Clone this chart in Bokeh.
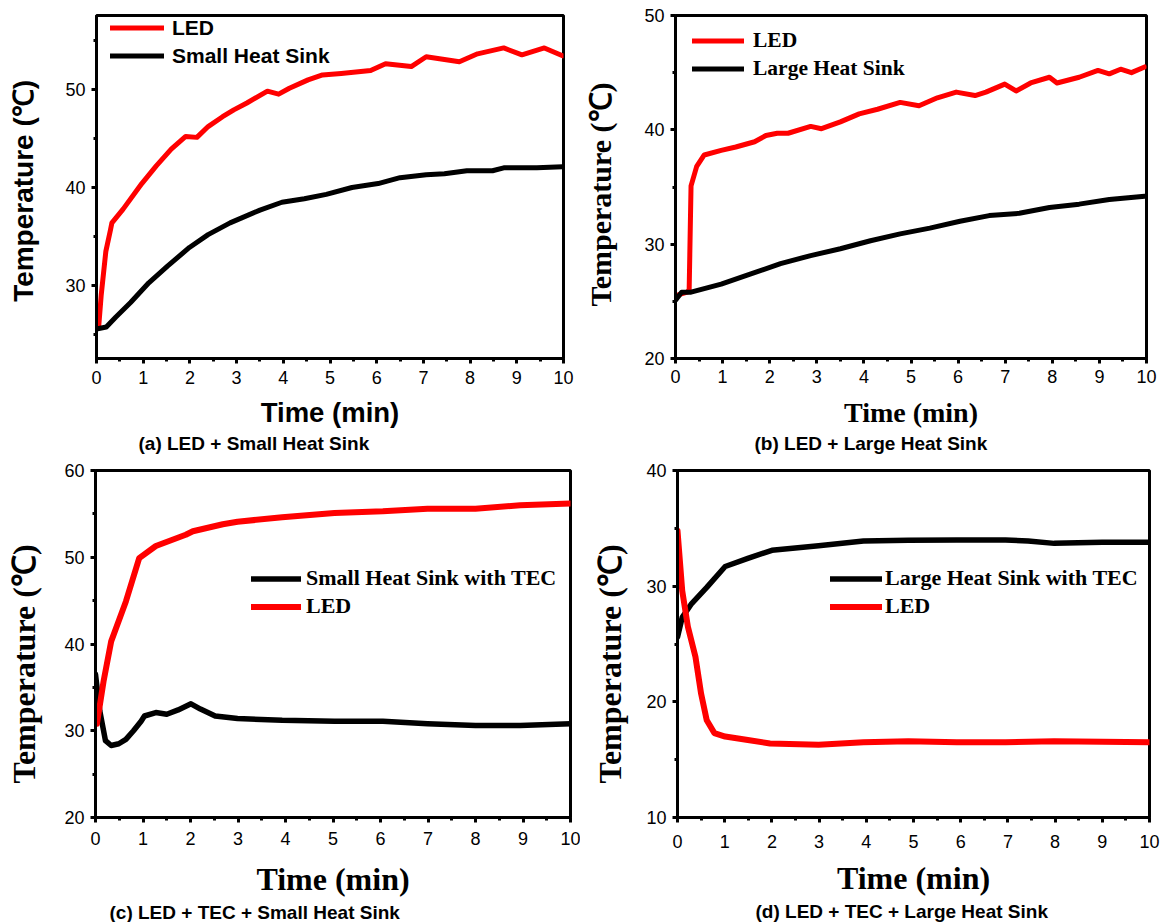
from bokeh.plotting import figure
from bokeh.layouts import column, row
from bokeh.models import Range1d, SingleIntervalTicker
from bokeh.embed import file_html
from bokeh.resources import INLINE

SANS = "Liberation Sans"
SERIF = "Liberation Serif"
RED = "#ff0000"
BLACK = "#000000"

# ---------------- data (time in min, temperature in degC) ----------------
a_led_t = [0.0, 0.05, 0.1, 0.2, 0.3, 0.33, 0.57, 0.97, 1.28, 1.6, 1.91, 2.15, 2.39, 2.7, 2.94, 3.22,
           3.66, 3.9, 4.13, 4.53, 4.84, 5.24, 5.87, 6.19, 6.74, 7.06, 7.77, 8.16, 8.72, 9.11, 9.59, 9.98]
a_led_y = [26.1, 26.0, 29.0, 33.5, 35.7, 36.4, 37.8, 40.4, 42.2, 43.9, 45.2, 45.1, 46.2, 47.2, 47.9, 48.6,
           49.8, 49.5, 50.1, 50.95, 51.45, 51.6, 51.9, 52.6, 52.3, 53.3, 52.8, 53.6, 54.2, 53.5, 54.2, 53.4]
a_sink_t = [0.0, 0.21, 0.41, 0.73, 1.12, 1.52, 1.99, 2.39, 2.86, 3.5, 3.97, 4.45, 4.92, 5.47, 6.03,
            6.5, 7.06, 7.45, 7.93, 8.48, 8.72, 9.43, 9.98]
a_sink_y = [25.6, 25.8, 26.8, 28.3, 30.3, 32.0, 33.9, 35.2, 36.4, 37.7, 38.5, 38.85, 39.3, 40.0, 40.4,
            41.0, 41.3, 41.4, 41.7, 41.7, 42.0, 42.0, 42.1]

b_led_t = [0.0, 0.25, 0.29, 0.33, 0.45, 0.61, 0.97, 1.28, 1.68, 1.92, 2.16, 2.39, 2.87, 3.1, 3.5, 3.9,
           4.29, 4.77, 5.17, 5.56, 5.96, 6.36, 6.59, 6.99, 7.23, 7.54, 7.94, 8.1, 8.57, 8.97, 9.21,
           9.45, 9.68, 9.96]
b_led_y = [25.5, 25.8, 26.0, 35.1, 36.8, 37.8, 38.2, 38.5, 38.96, 39.5, 39.7, 39.7, 40.3, 40.1, 40.7, 41.4,
           41.8, 42.4, 42.1, 42.8, 43.3, 43.0, 43.3, 44.0, 43.4, 44.1, 44.6, 44.1, 44.6, 45.2, 44.9,
           45.3, 45.0, 45.5]
b_sink_t = [0.0, 0.13, 0.33, 0.97, 1.6, 2.23, 2.87, 3.5, 4.14, 4.77, 5.4, 6.04, 6.66, 7.3, 7.94, 8.57,
            9.21, 9.96]
b_sink_y = [25.1, 25.8, 25.8, 26.5, 27.4, 28.3, 29.0, 29.6, 30.3, 30.9, 31.4, 32.0, 32.5, 32.7, 33.2,
            33.5, 33.9, 34.2]

c_led_t = [0.03, 0.17, 0.33, 0.64, 0.92, 1.27, 1.9, 2.05, 2.68, 2.99, 3.93, 5.03, 6.05, 6.99, 8.0,
           8.94, 10.0]
c_led_y = [30.8, 35.7, 40.3, 44.9, 49.9, 51.3, 52.6, 53.0, 53.8, 54.1, 54.6, 55.1, 55.3, 55.6, 55.6,
           56.0, 56.2]
c_sink_t = [0.0, 0.09, 0.21, 0.33, 0.49, 0.64, 0.8, 0.96, 1.03, 1.27, 1.5, 1.74, 2.01, 2.21, 2.52,
            2.99, 3.93, 5.03, 6.05, 6.99, 8.0, 8.94, 10.0]
c_sink_y = [36.5, 32.3, 28.85, 28.3, 28.5, 29.0, 30.0, 31.1, 31.7, 32.1, 31.9, 32.4, 33.1, 32.5, 31.7,
            31.4, 31.2, 31.1, 31.1, 30.8, 30.6, 30.6, 30.8]

d_led_t = [0.0, 0.1, 0.22, 0.38, 0.5, 0.62, 0.78, 1.01, 1.49, 1.96, 2.99, 3.94, 4.89, 5.92, 6.95,
           7.98, 9.0, 10.0]
d_led_y = [34.8, 29.6, 26.5, 23.9, 20.7, 18.4, 17.3, 17.0, 16.7, 16.4, 16.3, 16.5, 16.6, 16.5, 16.5,
           16.6, 16.55, 16.5]
d_sink_t = [0.0, 0.1, 0.3, 0.62, 1.01, 1.49, 2.0, 2.99, 3.94, 4.89, 5.92, 6.95, 7.43, 7.98, 9.0, 10.0]
d_sink_y = [25.6, 27.3, 28.5, 29.9, 31.7, 32.4, 33.1, 33.5, 33.9, 33.96, 34.0, 34.0, 33.9, 33.7,
            33.8, 33.8]

captions = ["(a) LED + Small Heat Sink", "(b) LED + Large Heat Sink",
            "(c) LED + TEC + Small Heat Sink", "(d) LED + TEC + Large Heat Sink"]
y_title = "Temperature (\u2103)"
x_title = "Time (min)"
NBSP = "\u00a0"


def panel(caption, w, h, borders, yr, title_font, ytitle_size, xtitle_size, y_standoff, x_standoff,
          xlab_standoff, cap_offset, cap_standoff, ypad):
    mbl, mbr, mbt, mbb = borders
    p = figure(width=w, height=h, output_backend="svg", toolbar_location=None,
               x_range=Range1d(0, 10), y_range=Range1d(*yr),
               min_border_left=mbl, min_border_right=mbr, min_border_top=mbt, min_border_bottom=mbb,
               title=caption, title_location="below")
    p.xgrid.visible = False
    p.ygrid.visible = False
    p.outline_line_color = BLACK
    p.outline_line_width = 3
    p.background_fill_color = "white"
    p.border_fill_color = "white"
    p.xaxis.ticker = SingleIntervalTicker(interval=1, num_minor_ticks=2)
    p.yaxis.ticker = SingleIntervalTicker(interval=10, num_minor_ticks=2)
    for ax in (p.xaxis[0], p.yaxis[0]):
        ax.axis_line_width = 3
        ax.axis_line_color = BLACK
        ax.major_tick_line_width = 3
        ax.minor_tick_line_width = 3
        ax.major_tick_line_color = BLACK
        ax.minor_tick_line_color = BLACK
        ax.major_tick_in = 0
        ax.major_tick_out = 5
        ax.minor_tick_in = 0
        ax.minor_tick_out = 3
        ax.major_label_text_font = SANS
        ax.major_label_text_font_size = "18px"
        ax.major_label_text_color = BLACK
        ax.axis_label_text_font = title_font
        ax.axis_label_text_font_style = "bold"
        ax.axis_label_text_color = BLACK
    p.yaxis.major_label_standoff = 6
    p.xaxis.major_label_standoff = xlab_standoff
    p.yaxis.axis_label = y_title + NBSP * ypad
    p.xaxis.axis_label = x_title
    p.yaxis.axis_label_text_font_size = ytitle_size
    p.xaxis.axis_label_text_font_size = xtitle_size
    p.yaxis.axis_label_standoff = y_standoff
    p.xaxis.axis_label_standoff = x_standoff
    p.title.align = "left"
    p.title.offset = cap_offset
    p.title.standoff = cap_standoff
    p.title.text_font = SANS
    p.title.text_font_size = "19px"
    p.title.text_font_style = "bold"
    p.title.text_color = BLACK
    return p


def style_legend(p, loc, font, size, glyph_w, standoff, pitch):
    leg = p.legend[0]
    leg.location = loc
    leg.padding = 0
    leg.margin = 0
    leg.spacing = pitch - 25
    leg.glyph_width = glyph_w
    leg.glyph_height = 25
    leg.label_height = 25
    leg.label_standoff = standoff
    leg.label_text_font = font
    leg.label_text_font_size = size
    leg.label_text_font_style = "bold"
    leg.label_text_color = BLACK
    leg.background_fill_alpha = 0
    leg.border_line_alpha = 0


# (a)
pa = panel(captions[0], 580, 456, (96, 17, 13, 98), (22.6, 57.5), SANS, "28px", "27.5px",
           23, 10, 7, 42, 0, 1)
pa.line(a_led_t, a_led_y, color=RED, line_width=5, line_join="round", line_cap="round", legend_label="LED")
pa.line(a_sink_t, a_sink_y, color=BLACK, line_width=5, line_join="round", line_cap="round",
        legend_label="Small Heat Sink")
style_legend(pa, (14, 290), SANS, "21px", 54, 8, 28)

# (b)
pb = panel(captions[1], 580, 456, (95, 14, 15, 95), (20, 50), SERIF, "30px", "28px",
           24, 11, 6, 79, 0, 2)
pb.line(b_led_t, b_led_y, color=RED, line_width=5, line_join="round", line_cap="round", legend_label="LED")
pb.line(b_sink_t, b_sink_y, color=BLACK, line_width=5, line_join="round", line_cap="round",
        legend_label="Large Heat Sink")
style_legend(pb, (17, 277), SERIF, "21.5px", 52, 9, 28)

# (c)
pc = panel(captions[2], 580, 466, (95, 10, 13, 105), (20, 60), SERIF, "32px", "32px",
           19, 13, 9, 14, 0, 5)
pc.line(c_sink_t, c_sink_y, color=BLACK, line_width=5.5, line_join="round", line_cap="round",
        legend_label="Small Heat Sink with TEC")
pc.line(c_led_t, c_led_y, color=RED, line_width=6, line_join="round", line_cap="round", legend_label="LED")
style_legend(pc, (156, 198), SERIF, "22px", 50, 5, 27)

# (d)
pd_ = panel(captions[3], 580, 466, (97, 11, 14, 105), (10, 40), SERIF, "32px", "32px",
            15, 9, 12, 78, 0, 5)
pd_.line(d_sink_t, d_sink_y, color=BLACK, line_width=5.5, line_join="round", line_cap="round",
         legend_label="Large Heat Sink with TEC")
pd_.line(d_led_t, d_led_y, color=RED, line_width=6, line_join="round", line_cap="round", legend_label="LED")
style_legend(pd_, (153, 198), SERIF, "22px", 52, 3, 27)

layout = column(row(pa, pb), row(pc, pd_))
open("out.html", "w").write(file_html(layout, INLINE))
